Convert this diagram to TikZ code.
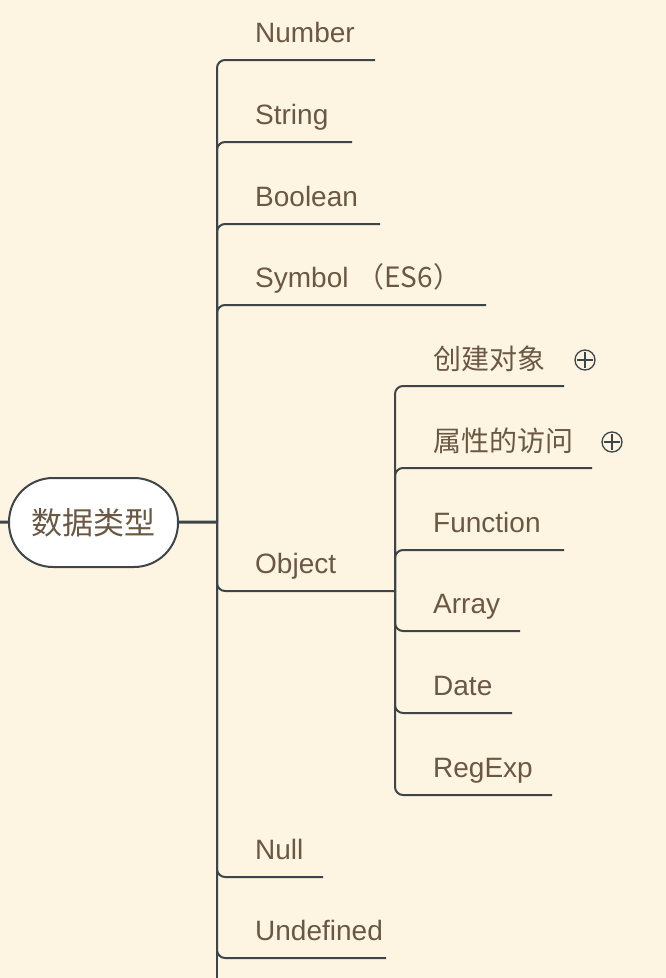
\documentclass[tikz,border=0pt]{standalone}
\usepackage{fontspec}
\setmainfont{Liberation Sans}
\newfontfamily\cjk{Noto Sans CJK SC}
\usetikzlibrary{positioning}
\definecolor{bgcream}{HTML}{FDF5E1}
\definecolor{txtbrown}{HTML}{6B5843}
\definecolor{linegray}{HTML}{3E4548}

\begin{document}
\begin{tikzpicture}[x=1pt,y=-1pt,
    topic/.style={draw=linegray, line width=2pt, fill=white, rounded corners=44pt,
      minimum width=169pt, minimum height=89pt, inner sep=0pt, text=txtbrown,
      font=\cjk\fontsize{31}{36}\selectfont},
    leaf/.style={anchor=base west, inner sep=0pt, text=txtbrown, font=\fontsize{28}{34}\selectfont},
    leafcjk/.style={leaf, font=\cjk\fontsize{28}{34}\selectfont},
    branch/.style={draw=linegray, line width=2pt, rounded corners=8pt},
    stem/.style={draw=linegray, line width=3pt},
    fold/.style={draw=linegray, line width=1.3pt, circle, minimum size=20pt, inner sep=0pt}]

  \fill[bgcream] (0,0) rectangle (666,978);
  \useasboundingbox (0,0) rectangle (666,978);

  \node[topic] (root) at (93.5,522.5) {数据类型};

  \coordinate (parent) at (-10,522);
  \coordinate (root-j) at (217,522);
  \coordinate (tail) at (217,995);
  \coordinate (obj-j) at (395,591);

  \coordinate (num-e) at (375,60);
  \coordinate (str-e) at (352,142);
  \coordinate (bool-e) at (380,224);
  \coordinate (sym-e) at (486,305);
  \coordinate (null-e) at (323,877);
  \coordinate (undef-e) at (386,958);

  \coordinate (create-e) at (564,386);
  \coordinate (prop-e) at (592,468);
  \coordinate (func-e) at (564,550);
  \coordinate (arr-e) at (520,631);
  \coordinate (date-e) at (512,713);
  \coordinate (regexp-e) at (552,795);

  \node[leaf] (num) at (255,42) {Number};
  \node[leaf] (str) at (255,124) {String};
  \node[leaf] (bool) at (255,206) {Boolean};
  \node[leaf] (sym) at (255,287) {Symbol {\cjk（ES6）}};
  \node[leaf] (obj) at (255,573) {Object};
  \node[leaf] (null) at (255,859) {Null};
  \node[leaf] (undef) at (255,940) {Undefined};

  \node[leafcjk] (create) at (433,369) {创建对象};
  \node[leafcjk] (prop) at (433,451) {属性的访问};
  \node[leaf] (func) at (433,532) {Function};
  \node[leaf] (arr) at (433,613) {Array};
  \node[leaf] (date) at (433,695) {Date};
  \node[leaf] (regexp) at (433,777) {RegExp};

  \node[fold] (create-f) at (585,360) {};
  \node[fold] (prop-f) at (612,442) {};
  \draw[linegray, line width=1.3pt]
    ([yshift=-3pt]create-f.north) -- ([yshift=3pt]create-f.south)
    ([xshift=3pt]create-f.west) -- ([xshift=-3pt]create-f.east)
    ([yshift=-3pt]prop-f.north) -- ([yshift=3pt]prop-f.south)
    ([xshift=3pt]prop-f.west) -- ([xshift=-3pt]prop-f.east);

  \draw[stem] (parent) -- (root);
  \draw[stem] (root) -- (root-j);
  \draw[branch] (root-j) -- (tail);

  \draw[branch] (root-j) |- (num-e);
  \draw[branch] (root-j) |- (str-e);
  \draw[branch] (root-j) |- (bool-e);
  \draw[branch] (root-j) |- (sym-e);
  \draw[branch] (root-j) |- (obj-j);
  \draw[branch] (root-j) |- (null-e);
  \draw[branch] (root-j) |- (undef-e);

  \draw[branch] (obj-j) |- (create-e);
  \draw[branch] (obj-j) |- (prop-e);
  \draw[branch] (obj-j) |- (func-e);
  \draw[branch] (obj-j) |- (arr-e);
  \draw[branch] (obj-j) |- (date-e);
  \draw[branch] (obj-j) |- (regexp-e);
\end{tikzpicture}
\end{document}
